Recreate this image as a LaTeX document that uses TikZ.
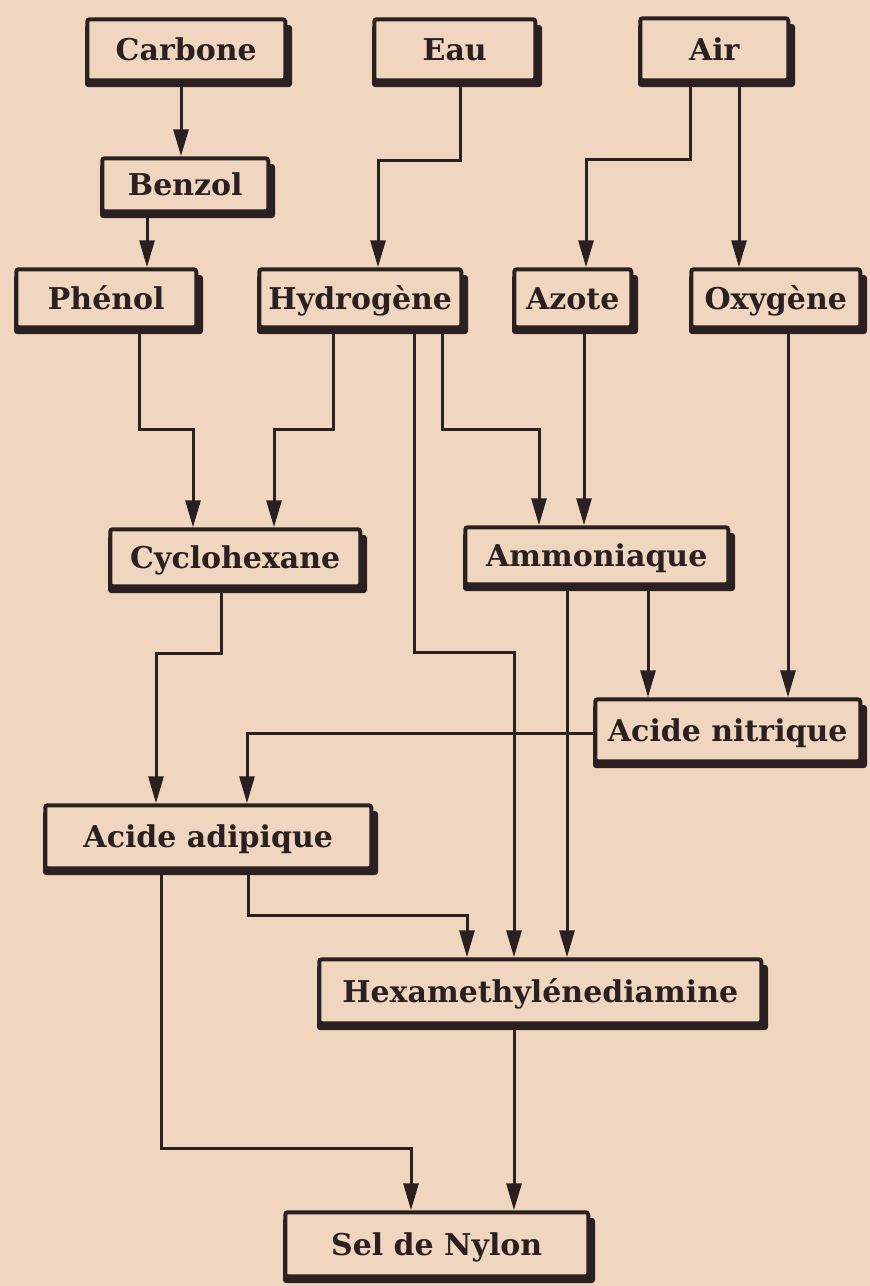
\documentclass[tikz,border=0pt]{standalone}
\usepackage{fontspec}
\setmainfont{DejaVu Serif}
\usetikzlibrary{arrows.meta}
\definecolor{paper}{RGB}{240,214,191}
\definecolor{ink}{RGB}{42,31,33}
\newcommand{\flowbox}[6]{%
  \fill[ink,rounded corners=3pt] ({#2},{#3+8}) rectangle ({#4},{#5});
  \node[boxst,minimum width={#4-#2-9},minimum height={#5-#3-9}] (#1) at ({(#2+#4-4.5)/2},{(#3+#5-4.5)/2}) {#6};}
\begin{document}
\begin{tikzpicture}[x=1pt,y=-1pt,
  boxst/.style={draw=ink,fill=paper,line width=4pt,rounded corners=2.5pt,inner sep=0pt,
    text=ink,text height=22pt,text depth=0pt,font=\fontsize{30}{33}\selectfont\bfseries},
  conn/.style={draw=ink,line width=3pt,-{Triangle[length=27pt,width=15pt]}}]
\fill[paper] (0,0) rectangle (870,1286);
\useasboundingbox (0,0) rectangle (870,1286);
\flowbox{carbone}{85}{17}{292}{87}{Carbone}
\flowbox{eau}{372}{17}{542}{87}{Eau}
\flowbox{air}{638}{16}{795}{87}{Air}
\flowbox{benzol}{100}{156}{275}{218}{Benzol}
\flowbox{phenol}{14}{267}{203}{334}{Phénol}
\flowbox{hydro}{257}{267}{468}{334}{Hydrogène}
\flowbox{azote}{512}{267}{638}{334}{Azote}
\flowbox{oxy}{689}{267}{867}{334}{Oxygène}
\flowbox{cyclo}{108}{527}{367}{593}{Cyclohexane}
\flowbox{ammo}{463}{525}{735}{591}{Ammoniaque}
\flowbox{nitr}{593}{697}{867}{768}{Acide nitrique}
\flowbox{adip}{43}{803}{378}{875}{Acide adipique}
\flowbox{hexa}{317}{957}{768}{1030}{Hexamethylénediamine}
\flowbox{sel}{283}{1210}{595}{1283}{Sel de Nylon}
\draw[conn] (carbone.south -| 181,0) -- (benzol.north -| 181,0);
\draw[conn] (benzol.south -| 147,0) -- (phenol.north -| 147,0);
\draw[conn] (eau.south -| 460,0) -- (460,160) -- (378,160) -- (hydro.north -| 378,0);
\draw[conn] (air.south -| 690,0) -- (690,159) -- (586,159) -- (azote.north -| 586,0);
\draw[conn] (air.south -| 739,0) -- (oxy.north -| 739,0);
\draw[conn] (phenol.south -| 139,0) -- (139,429) -- (193,429) -- (cyclo.north -| 193,0);
\draw[conn] (hydro.south -| 333,0) -- (333,429) -- (274,429) -- (cyclo.north -| 274,0);
\draw[conn] (hydro.south -| 414,0) -- (414,652) -- (514,652) -- (hexa.north -| 514,0);
\draw[conn] (hydro.south -| 442,0) -- (442,429) -- (539,429) -- (ammo.north -| 539,0);
\draw[conn] (azote.south -| 584,0) -- (ammo.north -| 584,0);
\draw[conn] (oxy.south -| 788,0) -- (nitr.north -| 788,0);
\draw[conn] (ammo.south -| 567,0) -- (hexa.north -| 567,0);
\draw[conn] (ammo.south -| 648,0) -- (nitr.north -| 648,0);
\draw[conn] (cyclo.south -| 221,0) -- (221,653) -- (156,653) -- (adip.north -| 156,0);
\draw[conn] (nitr.west |- 0,733) -- (247,733) -- (adip.north -| 247,0);
\draw[conn] (adip.south -| 248,0) -- (248,915) -- (467,915) -- (hexa.north -| 467,0);
\draw[conn] (adip.south -| 161,0) -- (161,1148) -- (411,1148) -- (sel.north -| 411,0);
\draw[conn] (hexa.south -| 514,0) -- (sel.north -| 514,0);
\end{tikzpicture}
\end{document}
